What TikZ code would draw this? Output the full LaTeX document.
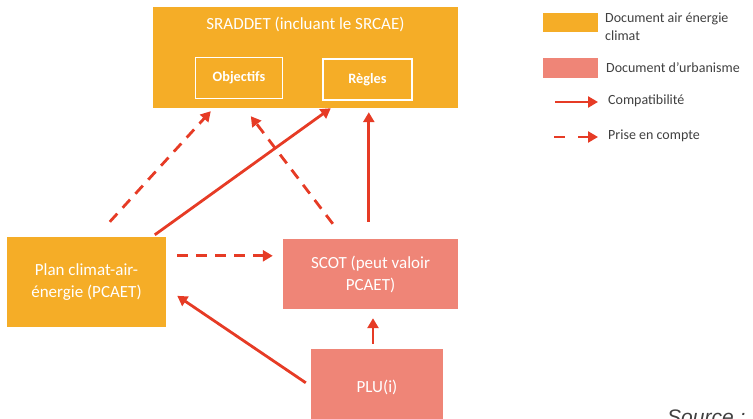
\documentclass[tikz,border=0pt]{standalone}
\usepackage{fontspec}
\setmainfont{Carlito}
\newfontfamily\srcfont{Liberation Sans}
\usetikzlibrary{arrows.meta,calc}
\definecolor{orangedoc}{HTML}{F5AD27}
\definecolor{pinkdoc}{HTML}{EF8577}
\definecolor{arrowred}{HTML}{E63B25}
\definecolor{legtext}{HTML}{404040}
\tikzset{
  x=1pt,y=-1pt,
  orangebox/.style={fill=orangedoc,draw=none,inner sep=0pt,text=white,align=center},
  pinkbox/.style={fill=pinkdoc,draw=none,inner sep=0pt,text=white,align=center},
  boxfont/.style={font=\fontsize{17}{22}\selectfont},
  innerbox/.style={draw=white,line width=1.8pt,inner sep=0pt,text=white,font=\fontsize{14.3}{16}\selectfont\bfseries},
  compat/.style={draw=arrowred,line width=2.8pt,-{Triangle[length=10pt,width=11pt]}},
  prise/.style={compat,dash pattern=on 11pt off 8pt},
  legendtxt/.style={text=legtext,font=\fontsize{14}{18}\selectfont,anchor=west,inner sep=0pt,align=left},
}
\begin{document}
\begin{tikzpicture}
\useasboundingbox (0,0) rectangle (753,419);
% boxes
\node[orangebox,minimum width=305pt,minimum height=101pt] (sraddet) at (305.5,57.5) {};
\node[text=white,boxfont,inner sep=0pt] (title) at (305.5,24) {SRADDET (incluant le SRCAE)};
\node[innerbox,minimum width=87pt,minimum height=41pt] (obj) at (239,78) {Objectifs};
\node[innerbox,minimum width=89pt,minimum height=41pt] (regles) at (367.5,79.5) {Règles};
\node[orangebox,boxfont,minimum width=159pt,minimum height=90pt] (pcaet) at (86.5,282) {Plan climat-air-\\énergie (PCAET)};
\node[pinkbox,boxfont,minimum width=175pt,minimum height=70pt] (scot) at (370.5,274) {SCOT (peut valoir\\PCAET)};
\node[pinkbox,minimum width=132pt,minimum height=100pt] (plu) at (377,399) {};
\node[text=white,boxfont,inner sep=0pt] (plutxt) at (377,387) {PLU(i)};
% connectors
\draw[prise] ([xshift=103pt,yshift=15pt]pcaet.north west) -- ([xshift=58pt,yshift=-3pt]sraddet.south west);
\draw[compat] ([xshift=148pt,yshift=2pt]pcaet.north west) -- ([xshift=178pt,yshift=0pt]sraddet.south west);
\draw[prise] ([xshift=50pt,yshift=15pt]scot.north west) -- ([xshift=98pt,yshift=-8pt]sraddet.south west);
\draw[compat] ([xshift=86pt,yshift=17pt]scot.north west) -- ([xshift=216pt,yshift=-4pt]sraddet.south west);
\draw[prise] ([xshift=11pt,yshift=-19pt]pcaet.north east) -- ([xshift=-10pt,yshift=-17pt]scot.north west);
\draw[compat] ([xshift=-5pt,yshift=-34pt]plu.north west) -- ([xshift=11pt,yshift=-59pt]pcaet.north east);
\draw[compat] ([xshift=-4pt,yshift=5pt]plu.north) -- ([xshift=2.5pt,yshift=-9pt]scot.south);
% legend
\node[fill=orangedoc,minimum width=55pt,minimum height=19pt,inner sep=0pt] (legor) at (570.5,22.5) {};
\node[legendtxt,anchor=north west] (legortxt) at (605,13) {Document air énergie\\climat};
\node[fill=pinkdoc,minimum width=55pt,minimum height=20pt,inner sep=0pt] (legpk) at (570.5,68) {};
\node[legendtxt] (legpktxt) at (606,68) {Document d’urbanisme};
\coordinate (lc1) at (555,102);
\coordinate (lc2) at (598,102);
\draw[compat] (lc1) -- (lc2);
\node[legendtxt] (legcompat) at (608,101) {Compatibilité};
\coordinate (lp1) at (554,137);
\coordinate (lp2) at (598,137);
\draw[compat,dash pattern=on 11pt off 13pt] (lp1) -- (lp2);
\node[legendtxt] (legprise) at (608,136) {Prise en compte};
% source
\node[anchor=north west,inner sep=0pt,text=legtext,font=\srcfont\itshape\fontsize{21}{24}\selectfont] (source) at (667,410) {Source :};
\end{tikzpicture}
\end{document}
